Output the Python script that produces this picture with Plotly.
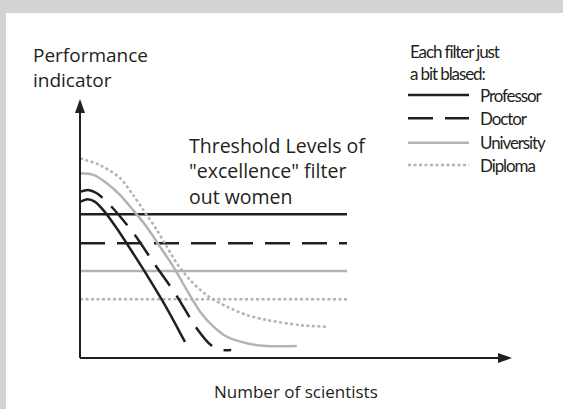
import plotly.graph_objects as go

# filters and their "excellence" threshold levels (performance units)
filters = ['Professor', 'Doctor', 'University', 'Diploma']
threshold_levels = [55.5, 44.3, 33.6, 22.7]
threshold_span = [0, 61.8]

# performance distribution curves (number of scientists vs performance)
professor_x = [0, 1.7, 3.5, 5.4, 8.5, 12.3, 16.2, 20.1, 24.3]
professor_y = [60.3, 61.3, 60.3, 57.1, 50.1, 40.4, 30.1, 19.2, 6.2]

doctor_x = [0, 1.9, 3.9, 7.3, 12.7, 17.4, 22.0, 27.0, 30.3, 33.2, 35.0]
doctor_y = [64.2, 64.9, 63.6, 58.4, 47.5, 35.9, 25.0, 11.5, 5.0, 3.1, 3.1]

university_x = [0, 3.1, 6.2, 9.3, 12.3, 15.4, 18.5, 21.6, 24.7, 27.8, 30.9, 34.0, 38.6, 43.2, 50.2]
university_y = [71.3, 70.7, 67.5, 62.9, 57.1, 50.7, 43.0, 35.3, 26.3, 17.9, 12.1, 8.2, 5.7, 4.6, 4.6]

diploma_x = [0, 4.6, 9.3, 12.3, 14.7, 17.8, 20.1, 22.4, 25.5, 29.3, 34.0, 38.6, 43.2, 50.9, 57.1]
diploma_y = [77.1, 74.5, 69.4, 62.9, 57.1, 49.4, 43.0, 36.6, 30.1, 24.3, 19.8, 16.6, 14.7, 12.7, 12.1]

curves = {
    'Professor': (professor_x, professor_y),
    'Doctor': (doctor_x, doctor_y),
    'University': (university_x, university_y),
    'Diploma': (diploma_x, diploma_y),
}

BLACK = '#231f20'
GREY = '#b1b3b6'
styles = {
    'Professor': dict(color=BLACK, width=2.5, dash='solid'),
    'Doctor': dict(color=BLACK, width=2.5, dash='25px,12px'),
    'University': dict(color=GREY, width=2.5, dash='solid'),
    'Diploma': dict(color=GREY, width=2.5, dash='3px,2.5px'),
}

W, H = 563, 409
L, R, T, B = 80, 51, 99, 51
pw, ph = W - L - R, H - T - B


def px(x):
    return (x - L) / pw


def py(y):
    return (H - B - y) / ph


def narrow(s):
    # no condensed face installed, so squeeze the letters a bit
    return f'<span style="letter-spacing:-1.1px">{s}</span>'


fig = go.Figure()

for name, level in zip(filters, threshold_levels):
    fig.add_trace(go.Scatter(
        x=threshold_span, y=[level, level], mode='lines',
        line=styles[name], showlegend=False, hoverinfo='skip'))

for name in filters:
    cx, cy = curves[name]
    fig.add_trace(go.Scatter(
        x=cx, y=cy, mode='lines', line=dict(shape='spline', smoothing=0.8, **styles[name]),
        name=name, showlegend=False, hoverinfo='skip'))

shapes = [
    # white panel on grey page
    dict(type='rect', xref='paper', yref='paper', x0=px(6), x1=px(W + 5), y0=py(H + 5), y1=py(13),
         fillcolor='white', line=dict(width=0), layer='below'),
    # axes
    dict(type='line', xref='paper', yref='paper', x0=0, x1=0, y0=0, y1=py(108),
         line=dict(color=BLACK, width=2)),
    dict(type='line', xref='paper', yref='paper', x0=0, x1=px(502), y0=0, y1=0,
         line=dict(color=BLACK, width=2)),
    dict(type='path', xref='paper', yref='paper', fillcolor=BLACK, line=dict(width=0),
         path=f'M {px(80)},{py(99)} L {px(75)},{py(113)} L {px(85)},{py(113)} Z'),
    dict(type='path', xref='paper', yref='paper', fillcolor=BLACK, line=dict(width=0),
         path=f'M {px(512)},{py(358)} L {px(498)},{py(353)} L {px(498)},{py(363)} Z'),
]

# legend drawn by hand
legend_rows = [95, 118.3, 142.7, 165]
for name, yy in zip(filters, legend_rows):
    st = styles[name]
    shapes.append(dict(type='line', xref='paper', yref='paper', x0=px(408), x1=px(469),
                       y0=py(yy), y1=py(yy),
                       line=dict(color=st['color'], width=st['width'], dash=st['dash'])))

main_font = 'Open Sans'
narrow_font = 'Lato'

annotations = [
    dict(text='Performance<br>indicator', x=px(31), y=py(40), xanchor='left', yanchor='top',
         align='left', font=dict(family=main_font, size=19, color=BLACK)),
    dict(text='Threshold Levels of<br>"excellence" filter<br>out women', x=px(187), y=py(130),
         xanchor='left', yanchor='top', align='left',
         font=dict(family=main_font, size=19.5, color=BLACK)),
    dict(text='Number of scientists', x=0.5, y=py(391), xanchor='center', yanchor='middle',
         font=dict(family=main_font, size=17, color=BLACK)),
    dict(text=narrow('Each filter just') + '<br>' + narrow('a bit blased:'), x=px(408), y=py(39),
         xanchor='left', yanchor='top', align='left',
         font=dict(family=narrow_font, size=17, color=BLACK)),
]
for name, yy in zip(filters, legend_rows):
    annotations.append(dict(text=narrow(name), x=px(478), y=py(yy), xanchor='left', yanchor='middle',
                            font=dict(family=narrow_font, size=17, color=BLACK)))

for a in annotations:
    a.update(xref='paper', yref='paper', showarrow=False)

fig.update_layout(
    width=W, height=H,
    margin=dict(l=L, r=R, t=T, b=B),
    paper_bgcolor='#d1d3d4',
    plot_bgcolor='rgba(0,0,0,0)',
    shapes=shapes,
    annotations=annotations,
    xaxis=dict(range=[0, 100], visible=False, fixedrange=True),
    yaxis=dict(range=[0, 100], visible=False, fixedrange=True),
    showlegend=False,
)

fig.write_html('out.html', config={'displayModeBar': False},
               post_script="document.body.style.margin='0';")
